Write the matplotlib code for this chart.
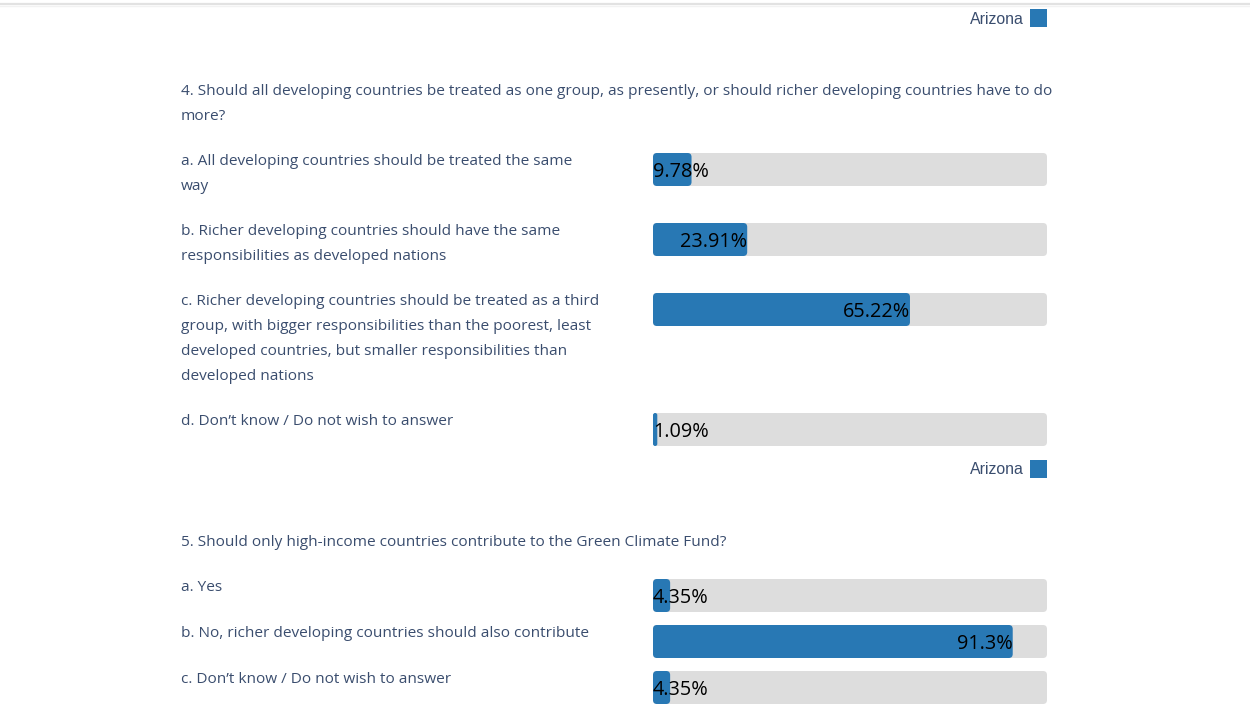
import matplotlib
matplotlib.use("Agg")
import matplotlib.pyplot as plt
from matplotlib.patches import FancyBboxPatch, Rectangle

# ---------------- data ----------------
legend_label = "Arizona"

q4_title = [
    "4. Should all developing countries be treated as one group, as presently, or should richer developing countries have to do",
    "more?",
]
q4_options = [
    ["a. All developing countries should be treated the same", "way"],
    ["b. Richer developing countries should have the same", "responsibilities as developed nations"],
    ["c. Richer developing countries should be treated as a third",
     "group, with bigger responsibilities than the poorest, least",
     "developed countries, but smaller responsibilities than",
     "developed nations"],
    ["d. Don\u2019t know / Do not wish to answer"],
]
q4_values = [9.78, 23.91, 65.22, 1.09]

q5_title = ["5. Should only high-income countries contribute to the Green Climate Fund?"]
q5_options = [
    ["a. Yes"],
    ["b. No, richer developing countries should also contribute"],
    ["c. Don\u2019t know / Do not wish to answer"],
]
q5_values = [4.35, 91.3, 4.35]

# ---------------- style ----------------
W, H = 1250, 719
TEXT_COLOR = "#3a4d6e"
BLUE = "#2878b4"
TRACK = "#dddddd"
LABEL_X = 181
BAR_X0, BAR_W = 653, 394
BAR_H = 33
LINE_H = 25
PX = 0.72  # px -> pt at dpi 100
LABEL_PX = 15.4
TEXT_DY = 2.5

fig = plt.figure(figsize=(W / 100, H / 100), dpi=100)
fig.patch.set_facecolor("white")
ax = fig.add_axes([0, 0, 1, 1])
ax.set_xlim(0, W)
ax.set_ylim(H, 0)
ax.axis("off")

bx = fig.add_axes([BAR_X0 / W, 0, BAR_W / W, 1])
bx.set_xlim(0, 100)
bx.set_ylim(H, 0)
bx.axis("off")
bx.patch.set_alpha(0)

px_per_unit = BAR_W / 100.0

# top browser line
ax.axhline(4, color="#e2e2e2", lw=1.6, zorder=1)
ax.axhline(5.5, color="#f2f2f2", lw=1.0, zorder=1)


def round_bars(container, color, z):
    for rect in container:
        x, y = rect.get_x(), rect.get_y()
        w, h = rect.get_width(), rect.get_height()
        wpx = w * px_per_unit
        r = min(4.0, wpx / 2.0, h / 2.0)
        patch = FancyBboxPatch((x, y), w, h,
                               boxstyle=f"round,pad=0,rounding_size={r / px_per_unit}",
                               mutation_aspect=px_per_unit,
                               facecolor=color, edgecolor="none", zorder=z)
        bx.add_patch(patch)
        rect.set_visible(False)


def legend(y):
    ax.text(1024, y + 2, legend_label, ha="right", va="center", fontsize=15.9 * PX,
            family="Liberation Sans", color=TEXT_COLOR)
    ax.add_patch(Rectangle((1030, y - 8), 17, 18, facecolor=BLUE, edgecolor="none"))


renderer = fig.canvas.get_renderer()


def label(x, y, s):
    ax.text(x, y + TEXT_DY, s, va="center", ha="left", fontsize=LABEL_PX * PX,
            family="Open Sans", color=TEXT_COLOR)


def question(y_legend, title, options, values):
    legend(y_legend)
    y = y_legend + 72
    for line in title:
        label(LABEL_X, y, line)
        y += LINE_H
    top = y - LINE_H + 39
    tops = []
    for opt in options:
        tops.append(top)
        for i, line in enumerate(opt):
            label(LABEL_X, top + 6 + i * LINE_H, line)
        top += max(len(opt) * LINE_H, 26) + 20
    centers = [t + BAR_H / 2 for t in tops]
    bg = bx.barh(centers, [100] * len(values), height=BAR_H, color=TRACK)
    round_bars(bg, TRACK, 1)
    fg = bx.barh(centers, values, height=BAR_H, color=BLUE)
    round_bars(fg, BLUE, 2)
    for c, v in zip(centers, values):
        t = bx.text(0, c + 2.5, f"{v:g}%", ha="left", va="center", fontsize=19.9 * PX,
                    family="Open Sans", color="black", zorder=3)
        wtxt = t.get_window_extent(renderer=renderer).width
        if wtxt < v * px_per_unit:
            t.set_ha("right")
            t.set_x(v)
    return tops[-1] + BAR_H


end4 = question(17, q4_title, q4_options, q4_values)
question(end4 + 22, q5_title, q5_options, q5_values)

fig.savefig("out.png", dpi=100)
